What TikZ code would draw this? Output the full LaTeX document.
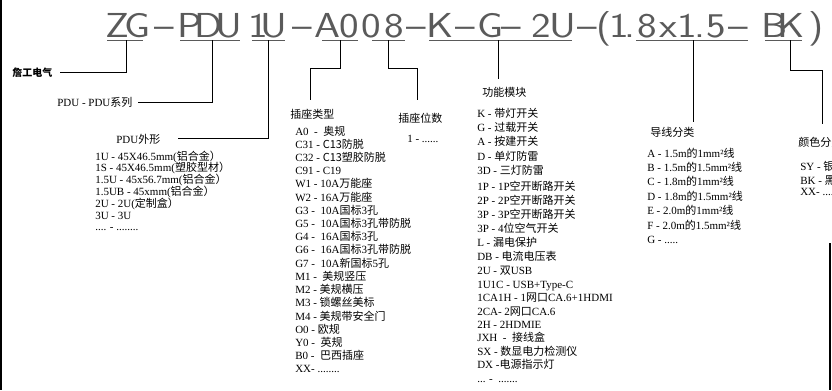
\documentclass[tikz,border=0pt]{standalone}
\usepackage{fontspec}
\setmainfont{Liberation Serif}
\newfontfamily\zhfont{Noto Sans CJK SC}
\newcommand\zh[1]{{\zhfont #1}}
\def\rdots#1{\ifnum#1>0 .\expandafter\rdots\expandafter{\the\numexpr#1-1\relax}\fi}
\definecolor{tgray}{HTML}{5A5A5A}
\begin{document}
\begin{tikzpicture}[x=0.75pt,y=-0.75pt,
  lbl/.style={anchor=base west,inner sep=0pt,font=\fontsize{8.25}{10}\selectfont},
  boldlbl/.style={anchor=base west,inner sep=0pt,font=\zhfont\bfseries\fontsize{7.5}{9}\selectfont},
  tch/.style={anchor=base,inner sep=0pt,text=tgray,xscale=1.2,font=\sffamily\fontsize{26}{26}\selectfont},
  ul/.style={draw=tgray,line width=0.7pt},
  conn/.style={draw=black,line width=0.75pt}]
\useasboundingbox (0,0) rectangle (832,390);
\fill[white] (0,0) rectangle (832,390);

% title characters
\foreach \ch/\xx [count=\i] in {Z/117.5, G/137.5, {--}/164, P/189.5, D/208.5, U/229, 1/258, U/274, {--}/302,
  A/327.5, 0/349, 0/371, 8/394, {--}/416, K/440, {--}/465, G/491, {--}/511, 2/541.5, U/562.5, {--}/587,
  {(}/604, 1/619, {.}/630, 8/647, x/668.5, 1/687.5, {.}/700, 5/716.5, {--}/738, B/774.5, K/791.5, {)}/816.5}
  \node[tch] (t\i) at (\xx,37) {\ch};

% underlines
\draw[ul] (107,40) -- (143,40);
\draw[ul] (180,40) -- (240,40);
\draw[ul] (252,40) -- (285,40);
\draw[ul] (322,40) -- (358,40);
\draw[ul] (372,40) -- (405,40);
\draw[ul] (429,40) -- (572,40);
\draw[ul] (636,40) -- (748,40);
\draw[ul] (765,40) -- (802,40);

% frame lines
\coordinate (lt) at (1,0); \coordinate (lb) at (1,390);
\draw[conn,line width=1pt] (lt) -- (lb);
\coordinate (rt) at (830,243); \coordinate (rb) at (830,390);
\draw[conn,line width=1pt] (rt) -- (rb);

% connectors
\coordinate (uZG) at (126,40); \coordinate (eZG) at (60,72);
\draw[conn] (uZG) |- (eZG);
\coordinate (uPDU) at (212,40); \coordinate (ePDU) at (138,102);
\draw[conn] (uPDU) |- (ePDU);
\coordinate (u1U) at (268,40); \coordinate (e1U) at (178,138);
\draw[conn] (u1U) |- (e1U);
\coordinate (uA) at (340,40); \coordinate (eA) at (310,100);
\draw[conn] (uA) -- ++(0,28) -| (eA);
\coordinate (u08) at (388,40); \coordinate (e08) at (417,100);
\draw[conn] (u08) -- ++(0,28) -| (e08);
\coordinate (uG) at (498,40); \coordinate (eG) at (498,79);
\draw[conn] (uG) -- (eG);
\coordinate (uW) at (693,40); \coordinate (eW) at (693,122);
\draw[conn] (uW) -- (eW);
\coordinate (uBK) at (790,40); \coordinate (eBK) at (822,124);
\draw[conn] (uBK) -- ++(0,30) -| (eBK);

% labels
\node[boldlbl] (zg) at (12,76) {詹工电气};
\node[lbl] (pdu) at (57,106) {PDU - PDU\zh{系列}};
\node[lbl] (shape) at (116,143) {PDU\zh{外形}};
\node[lbl] (stype) at (290,118) {\zh{插座类型}};
\node[lbl] (snum) at (398,122) {\zh{插座位数}};
\node[lbl] (snum1) at (407,142) {1 - \rdots{6}};
\node[lbl] (func) at (482,96) {\zh{功能模块}};
\node[lbl] (wire) at (650,136) {\zh{导线分类}};
\node[lbl] (color) at (798,146) {\zh{颜色分类}};

% PDU shape list
\foreach \t [count=\i] in {
  {1U - 45X46.5mm(\zh{铝合金）}},
  {1S - 45X46.5mm(\zh{塑胶型材）}},
  {1.5U - 45x56.7mm(\zh{铝合金）}},
  {1.5UB - 45xmm(\zh{铝合金）}},
  {2U - 2U(\zh{定制盒）}},
  {3U - 3U},
  {\rdots{4} - \rdots{8}}}
  \node[lbl] (pf\i) at (95,{160+11.8*(\i-1)}) {\t};

% socket type list
\foreach \t [count=\i] in {
  {A0 \ - \ \zh{奥规}},
  {C31 - \zh{C13防脱}},
  {C32 - \zh{C13塑胶防脱}},
  {C91 - C19},
  {W1 - 10A\zh{万能座}},
  {W2 - 16A\zh{万能座}},
  {G3 - \ 10A\zh{国标}3\zh{孔}},
  {G5 - \ 10A\zh{国标}3\zh{孔带防脱}},
  {G4 - \ 16A\zh{国标}3\zh{孔}},
  {G6 - \ 16A\zh{国标}3\zh{孔带防脱}},
  {G7 - \ 10A\zh{新国标}5\zh{孔}},
  {M1 - \ \zh{美规竖压}},
  {M2 - \zh{美规横压}},
  {M3 - \zh{锁螺丝美标}},
  {M4 - \zh{美规带安全门}},
  {O0 - \zh{欧规}},
  {Y0 - \ \zh{英规}},
  {B0 - \ \zh{巴西插座}},
  {XX- \rdots{8}}}
  \node[lbl] (st\i) at (295,{135+13.22*(\i-1)}) {\t};

% function module list
\foreach \yy/\t [count=\i] in {
  113/{K - \zh{带灯开关}},
  127/{G - \zh{过载开关}},
  141/{A - \zh{按建开关}},
  156/{D - \zh{单灯防雷}},
  170/{3D - \zh{三灯防雷}},
  186/{1P - 1P\zh{空开断路开关}},
  200/{2P - 2P\zh{空开断路开关}},
  214/{3P - 3P\zh{空开断路开关}},
  228/{3P - 4\zh{位空气开关}},
  242/{L - \zh{漏电保护}},
  256/{DB - \zh{电流电压表}},
  270/{2U - \zh{双}USB},
  284/{1U1C - USB+Type-C},
  297/{1CA1H - 1\zh{网口}CA.6+1HDMI},
  311/{2CA- 2\zh{网口}CA.6},
  324/{2H - 2HDMIE},
  337/{JXH \ - \ \zh{接线盒}},
  351/{SX - \zh{数显电力检测仪}},
  364/{DX -\zh{电源指示灯}},
  378/{\rdots{3} - \ \rdots{7}}}
  \node[lbl] (fm\i) at (477,{\yy+4}) {\t};

% wire list
\foreach \yy/\t [count=\i] in {
  153/{A - 1.5m\zh{的}1mm²\zh{线}},
  167/{B - 1.5m\zh{的}1.5mm²\zh{线}},
  181/{C - 1.8m\zh{的}1mm²\zh{线}},
  196/{D - 1.8m\zh{的}1.5mm²\zh{线}},
  210/{E - 2.0m\zh{的}1mm²\zh{线}},
  225/{F - 2.0m\zh{的}1.5mm²\zh{线}},
  239/{G - \rdots{5}}}
  \node[lbl] (wl\i) at (647,{\yy+4}) {\t};

% colour list
\node[lbl] (c1) at (800,170) {SY - \zh{银色}};
\node[lbl] (c2) at (800,184) {BK - \zh{黑色}};
\node[lbl] (c3) at (800,195) {XX- \rdots{6}};
\end{tikzpicture}
\end{document}
